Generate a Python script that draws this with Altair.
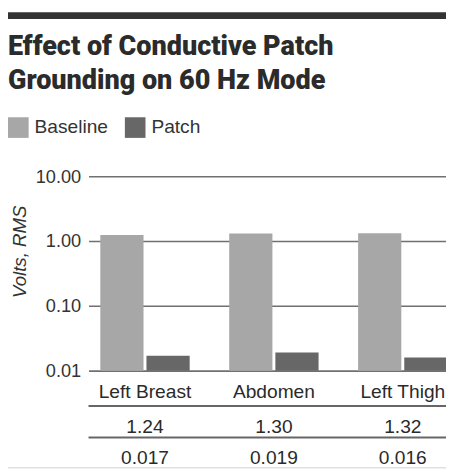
import altair as alt
import pandas as pd

regions = ["Left Breast", "Abdomen", "Left Thigh"]
series_names = ["Baseline", "Patch"]
baseline = [1.24, 1.30, 1.32]
patch = [0.017, 0.019, 0.016]
y_ticks = [0.01, 0.1, 1.0, 10.0]
y_floor = 0.01
title_lines = ["Effect of Conductive Patch", "Grounding on 60 Hz Mode"]
y_title = "Volts, RMS"
colors = ["#a7a7a7", "#676767"]

bars_df = pd.DataFrame({
    "region": regions * 2,
    "series": [series_names[0]] * len(regions) + [series_names[1]] * len(regions),
    "value": baseline + patch,
})
table_df = pd.DataFrame({"region": regions, "baseline": baseline, "patch": patch})
one = pd.DataFrame({"k": [0]})

W, H = 364, 198
FONT = "Liberation Sans, Arial, Helvetica, sans-serif"
TFONT = "Roboto, Liberation Sans, sans-serif"

x_scale = alt.Scale(domain=regions, range=[0, 377.5], paddingInner=0.30667, paddingOuter=0.09143)
x_enc = alt.X("region:N", scale=x_scale, axis=None, sort=regions)

bars = alt.Chart(bars_df).mark_bar().encode(
    x=x_enc,
    xOffset=alt.XOffset("series:N", sort=series_names,
                        scale=alt.Scale(domain=series_names, paddingInner=0.06383, paddingOuter=0)),
    y=alt.Y("value:Q",
            scale=alt.Scale(type="log", domain=[0.01, 10], nice=False),
            axis=alt.Axis(values=y_ticks, format=".2f", title=y_title,
                          grid=True, gridColor="#707070", gridWidth=1.6,
                          domain=False, ticks=False, labelPadding=8,
                          labelFont=FONT, labelFontSize=18.5, labelColor="#333",
                          labelBaseline="middle",
                          titleFont=FONT, titleFontSize=19, titleFontStyle="italic",
                          titleFontWeight="normal", titleColor="#333",
                          titleAngle=270, titleAlign="center", titleBaseline="top",
                          titleX=-79, titleY=76.5)),
    y2=alt.datum(y_floor),
    color=alt.Color("series:N", sort=series_names,
                    scale=alt.Scale(domain=series_names, range=colors),
                    legend=alt.Legend(orient="none", legendX=-82, legendY=-60,
                                      direction="horizontal", title=None,
                                      symbolType="square", symbolSize=441,
                                      symbolStrokeWidth=0, symbolOpacity=1,
                                      labelFont=FONT, labelFontSize=19.5, labelColor="#333",
                                      labelOffset=6, columnPadding=17, padding=0)),
)

top_bar = alt.Chart(one).mark_rule(color="#333", strokeWidth=7).encode(
    x=alt.value(-82), x2=alt.value(W), y=alt.value(-163.5))

title = alt.Chart(one).mark_text(align="left", baseline="alphabetic", font=TFONT,
                                 fontWeight=900, fontSize=27.5, lineHeight=34,
                                 color="#2b2b2b").encode(
    x=alt.value(-82), y=alt.value(-123), text=alt.value(title_lines))

line1 = alt.Chart(one).mark_rule(color="#666", strokeWidth=2).encode(
    x=alt.value(0), x2=alt.value(W), y=alt.value(234))
line2 = alt.Chart(one).mark_rule(color="#666", strokeWidth=2).encode(
    x=alt.value(0), x2=alt.value(W), y=alt.value(266))
bottom_line = alt.Chart(one).mark_rule(color="#d0d0d0", strokeWidth=1).encode(
    x=alt.value(-90), x2=alt.value(W), y=alt.value(297))

txt = dict(font=FONT, fontSize=19.5, color="#2a2a2a", align="center", baseline="alphabetic")
cat_text = alt.Chart(table_df).mark_text(**txt).encode(
    x=x_enc, y=alt.value(225.5), text="region:N")
row1 = alt.Chart(table_df).mark_text(**txt).encode(
    x=x_enc, y=alt.value(261), text=alt.Text("baseline:Q", format=".2f"))
row2 = alt.Chart(table_df).mark_text(**txt).encode(
    x=x_enc, y=alt.value(293), text=alt.Text("patch:Q", format=".3f"))

chart = alt.layer(top_bar, title, bars, line1, line2, bottom_line, cat_text, row1, row2).properties(
    width=W, height=H,
    autosize=alt.AutoSizeParams(type="none"),
    padding={"left": 82, "top": 167, "right": 0, "bottom": 101},
    background="white",
).configure_view(stroke=None)

chart.save("out.html", embed_options={"renderer": "svg", "actions": False})
